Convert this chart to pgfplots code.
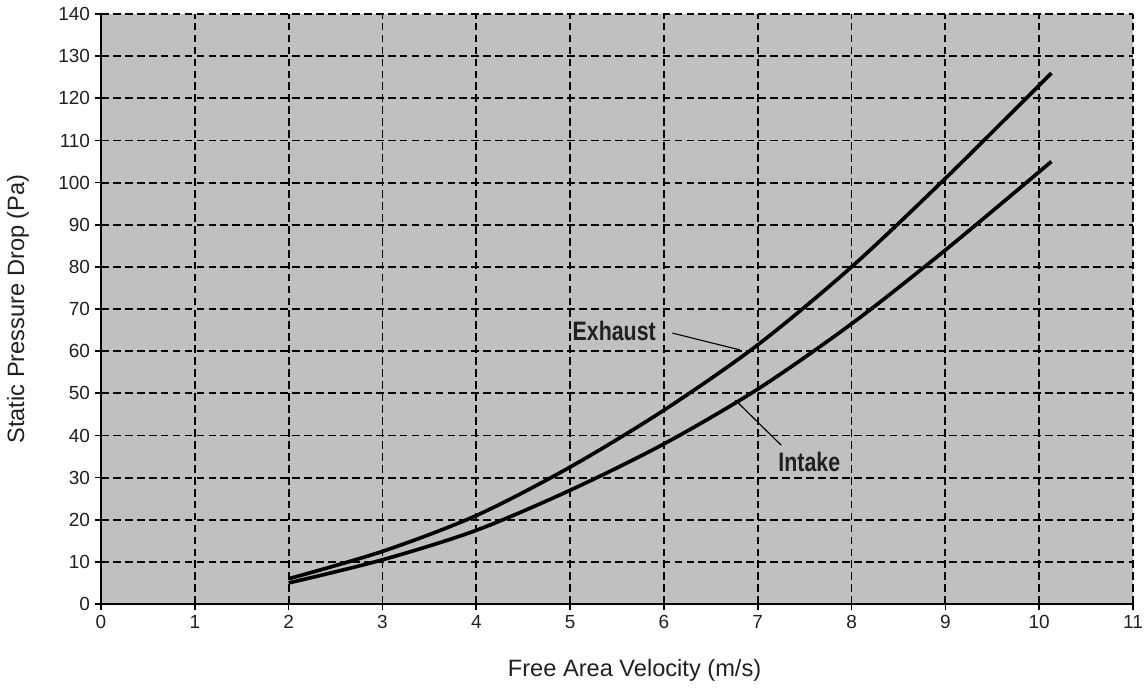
\documentclass[border=0pt]{standalone}
\usepackage{pgfplots}
\pgfplotsset{compat=1.18}
\usepackage{fontspec}
\setmainfont{Liberation Sans}
\definecolor{plotgray}{RGB}{192,192,192}
\definecolor{txt}{RGB}{35,31,32}

\begin{document}
\begin{tikzpicture}
\begin{axis}[
    scale only axis,
    width=25.8cm,
    height=14.75cm,
    xmin=0, xmax=11,
    ymin=0, ymax=140,
    xtick={0,...,11},
    ytick={0,10,...,140},
    axis x line*=bottom,
    axis y line*=left,
    axis line style={line width=1.2pt, black, -},
    axis background/.style={fill=plotgray},
    tick align=outside,
    major tick length=0.15cm,
    tick style={line width=1.2pt, black},
    grid=major,
    major grid style={line width=1.3pt, black, dash pattern=on 5.5pt off 3pt},
    /pgf/number format/assume math mode=true,
    ticklabel style={font=\fontsize{13.5}{15}\selectfont, text=txt},
    label style={font=\fontsize{16.8}{19}\selectfont, text=txt},
    xlabel={Free Area Velocity (m/s)},
    ylabel={Static Pressure Drop (Pa)},
    xlabel style={at={(axis description cs:0.517,-0.112)}, anchor=center},
    ylabel style={at={(axis description cs:-0.0804,0.5)}, anchor=center},
    clip=false,
]
% Exhaust
\addplot[black, line width=2.6pt, smooth] coordinates {
(2,6) (3,12.5) (4,21) (5,32.5) (6,46) (7,61.5) (8,80) (9,101) (10.13,126)
};
% Intake
\addplot[black, line width=2.6pt, smooth] coordinates {
(2,5) (3,10.5) (4,17.5) (5,27) (6,38) (7,51) (8,66.5) (9,84) (10.13,105)
};
\draw[black, line width=0.8pt] (axis cs:6.09,64.3) -- (axis cs:6.81,60.3);
\draw[black, line width=0.8pt] (axis cs:7.25,37.7) -- (axis cs:6.76,48.4);
\node[text=txt, font=\fontsize{19}{21}\selectfont\bfseries] at (axis cs:5.47,64.8) {\scalebox{0.8}[1]{Exhaust}};
\node[text=txt, font=\fontsize{19}{21}\selectfont\bfseries] at (axis cs:7.55,33.8) {\scalebox{0.8}[1]{Intake}};
\coordinate (bl) at (axis cs:-1.0765,-19.93);
\coordinate (tr) at (axis cs:11.117,143.33);
\end{axis}
\pgfresetboundingbox
\path[use as bounding box] (bl) rectangle (tr);
\end{tikzpicture}
\end{document}
